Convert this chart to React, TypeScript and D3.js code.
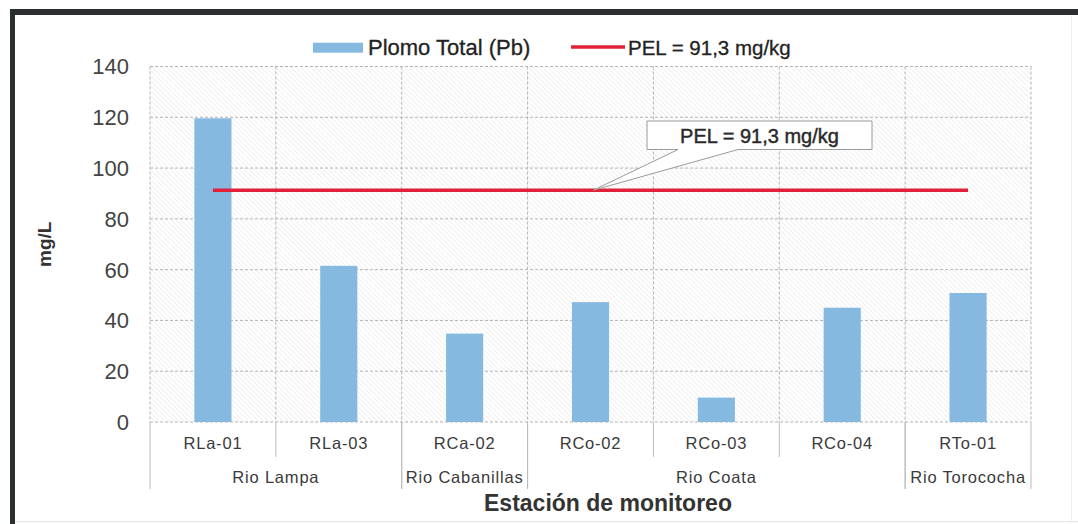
import React from "react";
import * as d3 from "d3";

const categories = ["RLa-01", "RLa-03", "RCa-02", "RCo-02", "RCo-03", "RCo-04", "RTo-01"];
const groupNames = ["Rio Lampa", "Rio Cabanillas", "Rio Coata", "Rio Torococha"];
const groupSizes = [2, 1, 3, 1];
const plomo = [119.6, 61.5, 34.8, 47.2, 9.6, 45.0, 50.8];
const pel = 91.3;
const yTicks = [0, 20, 40, 60, 80, 100, 120, 140];
const seriesName = "Plomo Total (Pb)";
const pelLabel = "PEL = 91,3 mg/kg";

const W = 1078;
const H = 524;
const left = 150;
const right = 1031;
const top = 66.5;
const bottom = 422;
const FONT = "'Liberation Sans', Arial, sans-serif";
const BLUE = "#85b9e0";
const RED = "#e1203a";

export default function App() {
  const x = d3.scaleBand<string>().domain(categories).range([left, right]).padding(0);
  const y = d3.scaleLinear().domain([0, 140]).range([bottom, top]);
  const bw = x.bandwidth();
  const barW = bw * 0.295;

  const groups: { name: string; x0: number; x1: number; startIdx: number; endIdx: number }[] = [];
  let idx = 0;
  groupNames.forEach((g, i) => {
    const s = idx;
    const e = idx + groupSizes[i] - 1;
    groups.push({ name: g, x0: x(categories[s])!, x1: x(categories[e])! + bw, startIdx: s, endIdx: e });
    idx += groupSizes[i];
  });

  const pelY = y(pel);
  const pelX0 = x(categories[0])! + bw / 2;
  const pelX1 = x(categories[categories.length - 1])! + bw / 2;
  const tipX = x(categories[3])! + bw / 2 + 3;

  const boxX0 = 647, boxX1 = 872, boxY0 = 121, boxY1 = 149.5;

  return (
    <svg width={W} height={H} style={{ position: "fixed", left: 0, top: 0, background: "#fff" }} fontFamily={FONT}>
      <defs>
        <pattern id="hatch" patternUnits="userSpaceOnUse" width="3.5" height="3.5" patternTransform="rotate(-45)">
          <line x1="0" y1="0" x2="0" y2="3.5" stroke="#cdcdcd" strokeWidth="0.6" />
        </pattern>
      </defs>
      <rect x={0} y={0} width={W} height={H} fill="#fff" />
      <rect x={10} y={9} width={W - 10} height={6} fill="#2b2f2f" />
      <rect x={10} y={9} width={5} height={H - 9} fill="#2b2f2f" />
      <line x1={15} x2={W} y1={521.5} y2={521.5} stroke="#e4e4e4" strokeWidth={1} />
      <line x1={1071.5} x2={1071.5} y1={15} y2={521} stroke="#efefef" strokeWidth={1} />

      <rect x={left} y={top} width={right - left} height={bottom - top} fill="url(#hatch)" />
      {yTicks.map((t) => (
        <line key={"g" + t} x1={left} x2={right} y1={y(t)} y2={y(t)} stroke="#b4b4b4" strokeWidth={1} strokeDasharray="3,2" />
      ))}
      {categories.map((c) => (
        <line key={"v" + c} x1={x(c)! + bw} x2={x(c)! + bw} y1={top} y2={bottom} stroke="#b4b4b4" strokeWidth={1} strokeDasharray="3,2" />
      ))}
      <line x1={left} x2={left} y1={top} y2={bottom} stroke="#b4b4b4" strokeWidth={1} strokeDasharray="3,2" />

      {categories.map((c, i) => (
        <rect key={"b" + c} x={x(c)! + bw / 2 - barW / 2} y={y(plomo[i])} width={barW} height={bottom - y(plomo[i])} fill={BLUE} />
      ))}

      <line x1={pelX0} x2={pelX1} y1={pelY} y2={pelY} stroke={RED} strokeWidth={3.5} />

      <path
        d={`M${boxX0},${boxY0} L${boxX1},${boxY0} L${boxX1},${boxY1} L738,${boxY1} L${tipX},${pelY} L678,${boxY1} L${boxX0},${boxY1} Z`}
        fill="#fff"
        stroke="#9a9a9a"
        strokeWidth={1}
      />
      <text x={(boxX0 + boxX1) / 2} y={143} textAnchor="middle" fontSize={20} fill="#2a2a2a" stroke="#2a2a2a" strokeWidth={0.45}>
        {pelLabel}
      </text>

      {yTicks.map((t) => (
        <text key={"t" + t} x={129} y={y(t)} dy="0.36em" textAnchor="end" fontSize={22} fill="#444">
          {t}
        </text>
      ))}

      {categories.map((c) => (
        <text key={"c" + c} x={x(c)! + bw / 2} y={449} textAnchor="middle" fontSize={16.5} letterSpacing={0.8} fill="#3a3a3a">
          {c}
        </text>
      ))}
      {groups.map((g) => (
        <g key={"sep" + g.name}>
          {d3.range(g.startIdx + 1, g.endIdx + 1).map((k) => (
            <line key={k} x1={x(categories[k])!} x2={x(categories[k])!} y1={bottom} y2={457} stroke="#bbb" strokeWidth={1} />
          ))}
          <line x1={g.x0} x2={g.x0} y1={bottom} y2={489} stroke="#bbb" strokeWidth={1} />
          <line x1={g.x1} x2={g.x1} y1={bottom} y2={489} stroke="#bbb" strokeWidth={1} />
          <text x={(g.x0 + g.x1) / 2} y={483} textAnchor="middle" fontSize={16.5} letterSpacing={0.8} fill="#3a3a3a">
            {g.name}
          </text>
        </g>
      ))}

      <text transform={`translate(51,${(top + bottom) / 2}) rotate(-90)`} textAnchor="middle" fontSize={19} fontWeight="bold" fill="#333">
        mg/L
      </text>
      <text x={608} y={511} textAnchor="middle" fontSize={23} fontWeight="bold" fill="#333">
        Estación de monitoreo
      </text>

      <rect x={313} y={42.7} width={50} height={10} fill={BLUE} />
      <text x={368} y={55} fontSize={22} fill="#222" stroke="#222" strokeWidth={0.3}>
        {seriesName}
      </text>
      <line x1={571} x2={625} y1={47} y2={47} stroke={RED} strokeWidth={3.5} />
      <text x={628} y={55} fontSize={20.5} fill="#222" stroke="#222" strokeWidth={0.3}>
        {pelLabel}
      </text>
    </svg>
  );
}
